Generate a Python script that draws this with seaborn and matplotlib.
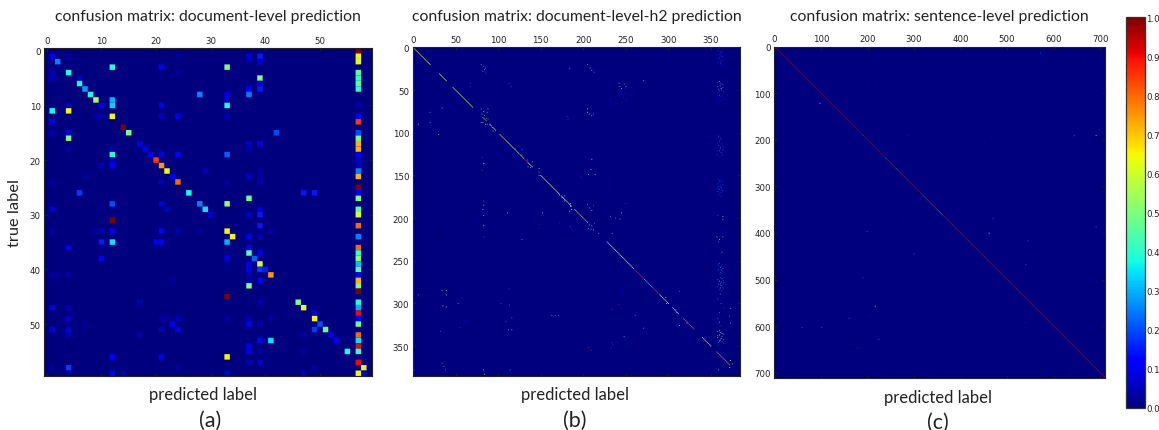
import numpy as np
import pandas as pd
import seaborn as sns
import matplotlib
matplotlib.use("Agg")
import matplotlib.pyplot as plt

# cells are (true label, predicted label, value)
cells_a = [
    (0,57,1.0),(1,1,.1),(1,4,.03),(1,24,.03),(1,37,.08),(1,39,.15),(1,57,.65),(2,2,.25),(2,37,.03),(2,39,.08),(2,57,.62),
    (3,12,.4),(3,21,.12),(3,33,.5),(4,1,.05),(4,4,.38),(4,24,.03),(4,57,.45),(5,1,.05),(5,6,.07),(5,39,.5),(5,57,.42),
    (6,6,.38),(6,39,.1),(6,57,.45),(7,7,.28),(7,37,.12),(7,39,.15),(7,57,.4),(8,8,.38),(8,28,.25),(8,33,.1),(8,37,.25),
    (9,9,.55),(9,12,.3),(9,33,.08),(10,4,.06),(10,10,.12),(10,12,.33),(10,21,.1),(10,33,.38),(10,57,.04),
    (11,1,.38),(11,4,.65),(12,9,.03),(12,10,.04),(12,12,.65),(12,21,.06),(12,24,.1),(12,33,.05),(12,57,.12),
    (13,1,.1),(13,57,.85),(14,14,1.0),(15,1,.04),(15,4,.08),(15,15,.5),(15,42,.2),(15,57,.2),(16,4,.5),(16,57,.5),
    (17,17,.1),(17,37,.07),(17,39,.1),(17,57,.72),(18,4,.03),(18,12,.03),(18,18,.1),(18,37,.05),(18,57,.72),
    (19,12,.4),(19,19,.1),(19,21,.1),(19,24,.12),(19,33,.22),(19,57,.1),(20,12,.06),(20,20,.85),(20,57,.06),
    (21,10,.06),(21,12,.12),(21,21,.75),(21,57,.05),(22,22,.65),(22,29,.06),(22,39,.03),(22,57,.25),
    (23,7,.02),(23,23,.1),(23,37,.06),(23,39,.03),(23,57,.72),(24,1,.03),(24,21,.05),(24,24,.8),(24,33,.03),(24,39,.04),
    (25,57,1.0),(26,6,.18),(26,26,.38),(26,47,.15),(26,49,.15),(26,57,.12),(27,37,.48),(27,57,.5),
    (28,12,.2),(28,21,.08),(28,28,.25),(28,33,.52),(29,1,.08),(29,22,.06),(29,29,.35),(29,39,.08),(29,57,.45),
    (30,30,.08),(30,37,.06),(30,39,.15),(30,57,.62),(31,12,1.0),(32,39,.15),(32,57,.8),
    (33,1,.03),(33,9,.03),(33,10,.04),(33,12,.12),(33,21,.12),(33,24,.05),(33,28,.03),(33,33,.65),(33,41,.03),
    (34,34,.65),(34,37,.1),(34,39,.05),(34,57,.25),(35,10,.15),(35,12,.35),(35,20,.1),(35,21,.12),(35,33,.3),
    (36,4,.1),(36,37,.1),(36,57,.8),(37,37,.45),(37,39,.1),(37,57,.42),(38,10,.12),(38,33,.1),(38,38,.22),(38,57,.52),
    (39,37,.1),(39,39,.62),(39,57,.32),(40,37,.1),(40,39,.18),(40,40,.15),(40,57,.45),
    (41,1,.03),(41,2,.02),(41,4,.03),(41,37,.05),(41,41,.75),(41,57,.12),(42,23,.03),(42,37,.03),(42,39,.12),(42,57,.72),
    (43,37,.5),(43,57,.5),(44,57,1.0),(45,33,1.0),(46,17,.05),(46,39,.04),(46,46,.5),(46,57,.4),
    (47,1,.1),(47,4,.05),(47,47,.62),(47,57,.3),(48,49,.1),(48,57,.9),
    (49,4,.07),(49,21,.03),(49,22,.03),(49,24,.06),(49,33,.03),(49,37,.04),(49,41,.03),(49,49,.65),(49,57,.12),
    (50,7,.03),(50,23,.1),(50,37,.12),(50,39,.04),(50,50,.2),(50,57,.48),
    (51,1,.08),(51,4,.08),(51,21,.06),(51,24,.1),(51,49,.18),(51,51,.48),(52,4,.05),(52,17,.05),(52,47,.03),(52,52,.1),(52,57,.8),
    (53,39,.12),(53,41,.35),(53,53,.12),(53,57,.35),(54,37,.1),(54,57,.9),(55,37,.1),(55,39,.04),(55,47,.03),(55,55,.38),(55,57,.4),
    (56,12,.12),(56,21,.12),(56,33,.65),(57,37,.05),(57,39,.07),(57,57,.9),
    (58,1,.03),(58,4,.18),(58,24,.03),(58,49,.03),(58,58,.65),(59,4,.03),(59,12,.1),(59,14,.05),(59,33,.08),(59,47,.05),(59,57,.65),(59,58,.1),
]

# diagonal stretches (first, last, value)
diag_runs_b = [
    (0,20,.65),(31,39,.62),(47,70,.58),(82,86,.75),(90,92,.65),(94,97,.65),(102,108,.7),(109,120,.62),(121,131,.62),(131,135,.9),
    (135,140,.62),(150,172,.65),(174,178,.62),(178,186,.62),(190,204,.72),(228,260,.62),(260,272,.88),(272,282,.35),(282,290,.88),
    (290,300,.62),(305,312,.45),(318,330,.82),(340,350,.65),(357,372,.78),
]
cells_b = [
    (20,80,.3),(22,83,.3),(24,85,.3),(26,84,.35),(28,82,.3),(30,85,.9),(20,205,.3),(24,208,.35),(27,210,.35),(29,213,.3),(25,184,.3),(39,271,.35),
    (42,242,.35),(46,243,.4),(43,248,.35),(46,250,.4),(48,245,.35),(42,67,.2),(46,67,.2),(42,113,.2),(46,115,.25),
    (72,80,.4),(75,83,.5),(72,88,.4),(78,81,.5),(80,84,.7),(83,86,.5),(88,82,.5),(90,85,.5),(88,80,.4),(76,87,.4),(84,88,.35),(90,87,.45),
    (71,34,.45),(76,20,.3),(88,20,.3),(90,6,.5),(102,30,.45),(72,205,.5),(76,205,.65),(78,207,.4),(80,210,.35),(78,212,.3),(81,181,.2),(84,182,.2),
    (94,93,.6),(98,94,.65),(96,96,.6),(118,120,.3),(122,122,.4),(125,125,.35),(120,128,.3),(126,128,.35),
    (132,134,.5),(136,136,.6),(140,135,.55),(134,140,.4),(141,138,.5),(129,81,.9),(136,83,.5),(144,81,.9),(131,210,.6),(143,209,.6),(149,206,.4),(149,214,.4),(152,197,.2),
    (142,148,.5),(146,148,.5),(150,148,.5),(173,172,.4),(176,175,.6),(180,178,.4),(174,178,.35),(183,185,.5),(186,185,.55),(190,186,.6),(192,184,.5),
    (180,83,.3),(185,83,.4),(190,82,.4),(197,83,.4),(184,205,.3),(188,207,.35),(191,210,.5),(185,212,.25),(194,111,.55),(194,152,.4),(198,232,.3),(200,238,.3),(201,243,.35),(194,245,.45),
    (205,205,.4),(208,207,.5),(212,206,.4),(209,210,.45),(214,212,.5),(206,213,.3),(213,209,.4),(209,83,.55),(222,83,.9),(225,128,.3),(218,218,.35),(218,234,.35),
    (208,148,.15),(212,148,.15),(206,172,.15),(210,185,.2),(213,186,.15),(208,30,.1),(183,250,.9),(95,280,.1),
    (285,34,.45),(285,39,.45),(290,39,.45),(290,6,.35),(303,35,.55),(304,39,.4),(300,53,.3),(300,103,.25),(283,113,.9),(302,113,.35),
    (314,163,.3),(314,167,.3),(314,171,.3),(331,112,.35),(331,116,.35),(317,116,.3),(321,109,.25),(314,261,.3),(307,234,.2),(301,242,.9),(286,313,.25),(326,313,.45),
    (292,292,.6),(296,296,.6),(300,298,.55),(293,297,.45),(311,310,.45),(312,312,.5),(307,309,.3),(323,322,.6),
    (370,34,.3),(374,36,.3),(378,38,.3),(378,83,.5),(380,83,.95),(383,84,.5),(378,114,.35),(378,1,.35),(367,373,.6),(371,375,.7),(375,372,.65),(370,370,.5),(378,359,.45),
    (355,209,.9),(352,206,.9),(346,234,.2),(349,235,.25),(352,233,.2),(329,271,.4),(339,248,.35),(323,373,.35),(333,32,.25),(328,55,.2),(320,60,.15),
    # blue speckle below the top block
    (45,232,.12),(52,235,.1),(58,238,.12),(62,232,.1),(65,240,.12),(55,246,.12),(60,250,.15),(64,245,.12),(68,248,.1),(10,235,.08),(18,250,.1),
    (160,232,.1),(168,235,.08),(175,238,.08),(255,245,.12),(260,250,.12),(270,255,.1),(278,245,.1),(252,238,.1),
    (124,232,.1),(130,236,.08),(5,10,.12),(10,14,.1),(15,8,.1),(12,33,.06),(255,3,.06),(122,5,.08),(205,75,.12),(215,4,.08),
    (50,241,.12),(54,249,.15),(57,233,.1),(61,243,.12),(66,236,.12),(48,250,.15),(63,251,.12),(69,241,.1),(67,234,.1),(59,247,.15),
    (262,247,.12),(266,252,.12),(258,240,.1),(274,250,.1),(282,252,.1),(285,246,.1),(248,243,.1),(264,242,.1),
]
strip_b = [
    (2,358,.15),(5,362,.2),(8,360,.15),(11,364,.2),(14,359,.15),(17,363,.18),(3,365,.12),(9,357,.12),(19,361,.2),(13,366,.12),(22,360,.1),
    (40,360,.3),(43,363,.35),(46,358,.25),(48,362,.4),(51,360,.25),(44,365,.2),(54,361,.12),(57,364,.15),(60,359,.15),(63,362,.12),(66,365,.1),(69,360,.12),(62,358,.1),
    (104,359,.3),(108,362,.2),(112,358,.15),(116,364,.15),(119,361,.2),(122,358,.15),(125,363,.2),(128,360,.15),
    (155,359,.2),(158,363,.15),(162,361,.2),(165,358,.2),(168,364,.18),(171,360,.15),(175,362,.2),(178,358,.12),
    (197,358,.9),(198,364,.5),(202,364,.5),(215,361,.12),(222,357,.45),(225,360,.4),(222,364,.5),(228,359,.3),(240,363,.4),
    (254,358,.2),(257,362,.2),(260,359,.25),(263,364,.2),(266,360,.15),(272,358,.25),(275,362,.3),(278,359,.25),(281,364,.25),(284,360,.2),(273,365,.2),
    (289,361,.3),(295,358,.25),(300,362,.3),(305,365,.2),(311,360,.3),(306,373,.3),(315,372,.3),(318,358,.3),(322,360,.35),(326,362,.2),
    (332,360,.4),(335,363,.45),(338,358,.4),(341,362,.55),(344,360,.5),(347,365,.2),(349,358,.15),(352,367,.12),
    # the denser blue part of the strip
    (1,360,.15),(4,359,.18),(6,364,.15),(7,361,.2),(10,362,.18),(12,360,.2),(15,365,.15),(16,361,.2),(18,358,.15),(20,364,.15),(0,363,.15),(21,362,.12),
    (41,358,.25),(42,361,.3),(45,361,.3),(47,364,.3),(49,359,.3),(50,362,.25),(52,365,.2),(53,358,.15),(56,360,.2),(58,362,.15),(61,364,.15),(64,360,.15),(65,358,.1),(67,363,.12),
    (106,361,.2),(110,360,.2),(113,363,.2),(115,359,.2),(117,361,.25),(120,364,.2),(121,360,.2),(123,362,.25),(126,358,.2),(127,365,.15),
    (156,362,.2),(157,360,.2),(160,358,.2),(161,364,.2),(163,359,.2),(164,362,.25),(166,360,.25),(167,363,.2),(169,358,.2),(170,362,.2),(173,359,.2),(174,364,.15),
    (253,360,.25),(255,363,.2),(256,359,.2),(258,361,.3),(259,364,.25),(261,362,.3),(262,358,.2),(264,361,.25),(265,363,.2),
    (270,361,.25),(271,363,.25),(274,360,.3),(276,365,.25),(277,361,.3),(279,362,.3),(280,358,.25),(282,361,.3),(283,365,.2),(285,362,.2),
    (333,358,.35),(334,361,.4),(336,365,.35),(337,360,.45),(339,363,.45),(340,358,.35),(342,365,.3),(343,361,.45),(345,363,.3),(346,359,.3),
]
diag_runs_c = [
    (0,188,.9),(189,191,.4),(192,238,.9),(239,241,.4),(242,260,.85),(261,263,.4),(264,320,.85),(321,322,.4),(323,350,.8),(351,352,.35),(353,359,.7),(360,361,.35),
    (362,710,.88),
]
cells_c = [
    (121,97,.55),(190,691,.45),(191,644,.35),(400,461,.4),(557,216,.65),(647,179,.95),(468,540,.3),(387,691,.3),(397,199,.3),(628,224,.3),
    (603,59,.3),(603,101,.3),(610,36,.2),(583,160,.3),(577,206,.25),(410,170,.25),(445,300,.3),(495,190,.3),(509,588,.25),(452,556,.2),
    (417,545,.3),(369,470,.3),(121,420,.2),(121,289,.15),(84,217,.2),(79,201,.2),(191,289,.25),(207,289,.2),(207,451,.2),(13,571,.25),
    (29,664,.2),(336,692,.2),(334,656,.15),(342,571,.2),(342,623,.15),(378,276,.2),(651,274,.25),(640,692,.15),(581,628,.2),(593,540,.25),
    (708,52,.2),(707,448,.15),(697,635,.25),(685,622,.2),(701,599,.2),(672,127,.15),(656,82,.15),(683,224,.15),(681,209,.2),(679,16,.15),
    (498,25,.15),(581,19,.15),(122,9,.15),(100,36,.15),(237,25,.15),(269,39,.15),(398,36,.15),(36,115,.15),(36,188,.15),(90,355,.12),
    (68,398,.12),(60,432,.12),(16,477,.12),(42,620,.12),(260,550,.12),(240,560,.15),(235,420,.12),(300,160,.12),(330,480,.12),(445,210,.12),
    (520,90,.12),(540,60,.1),(560,140,.12),(150,250,.12),(165,395,.12),(80,480,.1),(110,610,.12),(130,680,.12),(220,600,.12),(460,440,.12),
    (530,350,.12),(620,400,.12),(590,330,.15),(660,450,.12),(640,560,.12),(560,640,.12),(440,640,.12),(0,460,.3),(709,460,.12),(300,640,.12),
    # neighbours of the dots that show as a full pixel
    (121,98,.55),(122,97,.55),(122,98,.55),(190,692,.45),(191,691,.45),(191,692,.45),(191,645,.35),(192,644,.35),(400,462,.4),(401,461,.4),(401,462,.4),
    (557,217,.65),(558,216,.65),(558,217,.65),(647,180,.95),(648,179,.95),(648,180,.95),(468,541,.3),(469,540,.3),(387,692,.3),(388,691,.3),
    (397,200,.3),(398,199,.3),(628,225,.3),(629,224,.3),(603,60,.3),(604,59,.3),(603,102,.3),(604,101,.3),(583,161,.3),(584,160,.3),
    (445,301,.3),(446,300,.3),(495,191,.3),(496,190,.3),(417,546,.3),(418,545,.3),(369,471,.3),(370,470,.3),(13,572,.25),(14,571,.25),
]
tick_labels_a = [0, 10, 20, 30, 40, 50]
tick_labels_b = [0, 50, 100, 150, 200, 250, 300, 350]
tick_labels_c = [0, 100, 200, 300, 400, 500, 600, 700]
cbar_ticks = [0.0, 0.1, 0.2, 0.3, 0.4, 0.5, 0.6, 0.7, 0.8, 0.9, 1.0]


def build_matrix(n, cells, runs=()):
    m = np.zeros((n, n))
    for first, last, v in runs:
        for i in range(first, last + 1):
            m[i, i] = v
    for r, c, v in cells:
        m[r, c] = v
    return pd.DataFrame(m)


W, H = 1159, 431


def px_axes(fig, x0, y0, x1, y1):
    return fig.add_axes([x0 / W, 1 - y1 / H, (x1 - x0) / W, (y1 - y0) / H])


def draw_panel(ax, df, ticks, title, title_y, cbar_ax=None):
    # no snapping, so cells thinner than a pixel blend with the background
    sns.heatmap(df, ax=ax, mask=df == 0, cmap="jet", vmin=0, vmax=1, square=False,
                cbar=cbar_ax is not None, cbar_ax=cbar_ax,
                xticklabels=False, yticklabels=False, antialiased=True, snap=False)
    ax.set_facecolor("#00007f")
    pos = [t + 0.5 for t in ticks]
    ax.set_xticks(pos)
    ax.set_xticklabels(ticks)
    ax.set_yticks(pos)
    ax.set_yticklabels(ticks, rotation=0)
    ax.tick_params(top=True, bottom=True, left=True, right=True, labeltop=True, labelbottom=False,
                   direction="in", length=2.5, width=0.5, pad=2.5, labelsize=6.2, colors="#222222")
    for s in ax.spines.values():
        s.set_visible(True)
        s.set_linewidth(0.8)
        s.set_color("#222222")
    fig.text((ax.get_position().x0 + ax.get_position().x1) / 2, 1 - title_y / H, title, ha="center", va="center",
             fontsize=11.3, family="Lato", color="#222222")


sns.set_theme(style="white")
plt.rcParams["font.family"] = "DejaVu Sans"
fig = plt.figure(figsize=(W / 100, H / 100), dpi=100, facecolor="white")

ax_a = px_axes(fig, 44, 49, 372, 377)
ax_b = px_axes(fig, 412.7, 48, 740.3, 376.5)
ax_c = px_axes(fig, 774.3, 47.5, 1105, 378.5)
cax = px_axes(fig, 1126, 18, 1145, 409)

draw_panel(ax_a, build_matrix(60, cells_a), tick_labels_a, "confusion matrix: document-level prediction", 17)
draw_panel(ax_b, build_matrix(385, cells_b + strip_b, diag_runs_b), tick_labels_b, "confusion matrix: document-level-h2 prediction", 17)
draw_panel(ax_c, build_matrix(711, cells_c, diag_runs_c), tick_labels_c, "confusion matrix: sentence-level prediction", 17, cbar_ax=cax)

cbar = ax_c.collections[0].colorbar
cbar.set_ticks(cbar_ticks)
cbar.ax.tick_params(direction="in", length=2.5, width=0.5, pad=1, labelsize=6.2, colors="#222222", right=True)
cbar.outline.set_visible(True)
cbar.outline.set_linewidth(0.9)
cbar.outline.set_edgecolor("#333333")

label_spots = [(203, 395, 210, 421, "(a)"), (575, 395, 575, 421, "(b)"), (938, 398, 938, 423, "(c)")]
for x, y, lx, ly, letter in label_spots:
    fig.text(x / W, 1 - y / H, "predicted label", ha="center", va="center", fontsize=12, family="Lato", color="#222222")
    fig.text(lx / W, 1 - ly / H, letter, ha="center", va="center", fontsize=15.5, family="Lato", color="#222222")
fig.text(15 / W, 1 - 213 / H, "true label", rotation=90, ha="center", va="center", fontsize=11.8, family="Lato", color="#222222")

fig.savefig("out.png", dpi=100)
